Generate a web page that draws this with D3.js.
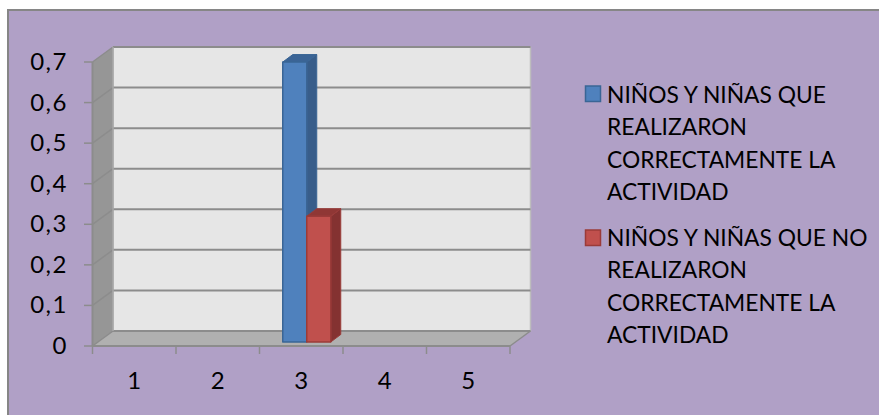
<!DOCTYPE html>
<html><head><meta charset="utf-8">
<script src="https://cdn.jsdelivr.net/npm/d3@7"></script>
<style>html,body{margin:0;padding:0;background:#fff}svg{display:block}text{font-family:Lato,"Open Sans",sans-serif;fill:#000}</style>
</head><body><svg id="c" width="879" height="415"></svg>
<script>
const categories = ["1","2","3","4","5"];
const seriesNames = ["NIÑOS Y NIÑAS QUE REALIZARON CORRECTAMENTE LA ACTIVIDAD","NIÑOS Y NIÑAS QUE NO REALIZARON CORRECTAMENTE LA ACTIVIDAD"];
const blueValues = [null,null,0.69,null,null];
const redValues = [null,null,0.31,null,null];
const yTicks = [0,0.1,0.2,0.3,0.4,0.5,0.6,0.7];
const legendLines = [["NIÑOS Y NIÑAS QUE","REALIZARON","CORRECTAMENTE LA","ACTIVIDAD"],["NIÑOS Y NIÑAS QUE NO","REALIZARON","CORRECTAMENTE LA","ACTIVIDAD"]];
const colors = [{front:"#4F81BD",edge:"#3A6595",side:"#385D8A",top:"#3B6496"},{front:"#C0504D",edge:"#9A3B39",side:"#843231",top:"#8F3735"}];

const svg = d3.select("#c");
const W=879,H=415;
svg.append("rect").attr("x",8).attr("y",10).attr("width",W).attr("height",H).attr("fill","#B0A0C6").attr("stroke","#868686").attr("stroke-width",2);

const x = d3.scaleBand().domain(categories).range([92.5,510]);
const y = d3.scaleLinear().domain([0,0.7]).range([346,62]);
const depth = {dx:20.5,dy:-15};
const grid="#8C8C8C";
const g = svg.append("g");
const poly=(pts,fill,stroke,sw)=>g.append("polygon").attr("points",pts.map(p=>p.join(",")).join(" ")).attr("fill",fill).attr("stroke",stroke||"none").attr("stroke-width",sw||0).attr("stroke-linejoin","round");
const x0=x.range()[0],x1=x.range()[1],yb=y(0),yt=y(0.7);
poly([[x0+depth.dx,yt+depth.dy],[x1+depth.dx,yt+depth.dy],[x1+depth.dx,yb+depth.dy],[x0+depth.dx,yb+depth.dy]],"#E6E6E6","#BDBDBD",1.5);
poly([[x0,yb],[x0+depth.dx,yb+depth.dy],[x1+depth.dx,yb+depth.dy],[x1,yb]],"#B0B0B0");
poly([[x0,yt],[x0+depth.dx,yt+depth.dy],[x0+depth.dx,yb+depth.dy],[x0,yb]],"#969696");
yTicks.forEach(t=>{
  const yy=y(t);
  g.append("line").attr("x1",x0).attr("y1",yy).attr("x2",x0+depth.dx).attr("y2",yy+depth.dy).attr("stroke",grid).attr("stroke-width",1.5);
  g.append("line").attr("x1",x0+depth.dx).attr("y1",yy+depth.dy).attr("x2",x1+depth.dx).attr("y2",yy+depth.dy).attr("stroke",grid).attr("stroke-width",2);
  g.append("line").attr("x1",x0-8.5).attr("y1",yy).attr("x2",x0).attr("y2",yy).attr("stroke",grid).attr("stroke-width",1.5);
  g.append("text").attr("x",68).attr("y",yy+8).attr("text-anchor","end").attr("font-size",24).attr("letter-spacing",1.5).text(String(t).replace(".",","));
});
g.append("line").attr("x1",x0+depth.dx).attr("y1",yt+depth.dy).attr("x2",x0+depth.dx).attr("y2",yb+depth.dy).attr("stroke","#A8A8A8").attr("stroke-width",1.5);
g.append("line").attr("x1",x0).attr("y1",yt).attr("x2",x0).attr("y2",yb).attr("stroke",grid).attr("stroke-width",2);
g.append("line").attr("x1",x0).attr("y1",yb).attr("x2",x1).attr("y2",yb).attr("stroke",grid).attr("stroke-width",2);
g.append("line").attr("x1",x1).attr("y1",yb).attr("x2",x1+depth.dx).attr("y2",yb+depth.dy).attr("stroke",grid).attr("stroke-width",1.5);
const tickPos=categories.map(c=>x(c)).concat([x1]);
tickPos.forEach(p=>g.append("line").attr("x1",p).attr("y1",yb).attr("x2",p).attr("y2",yb+8).attr("stroke",grid).attr("stroke-width",1.5));
categories.forEach(c=>g.append("text").attr("x",x(c)+x.bandwidth()/2).attr("y",389).attr("text-anchor","middle").attr("font-size",24).text(c));

const barW=24, off={dx:5.5,dy:-4}, bd={dx:10,dy:-7.5};
[blueValues,redValues].forEach((vals,si)=>{
  vals.forEach((v,i)=>{
    if(v==null)return;
    const L=x(categories[i])+x.bandwidth()/2+off.dx+(si-1)*barW;
    const R=L+barW;
    const b=yb+off.dy;
    const h=y(0)-y(v);
    const t=b-h;
    const c=colors[si];
    poly([[R,b],[R+bd.dx,b+bd.dy],[R+bd.dx,t+bd.dy],[R,t]],c.side,c.edge,1);
    poly([[L,t],[L+bd.dx,t+bd.dy],[R+bd.dx,t+bd.dy],[R,t]],c.top,c.edge,1);
    poly([[L,t],[R,t],[R,b],[L,b]],c.front,c.edge,1.5);
  });
});
const swatchY=[86,230], lineH=32.5, first=[102.5,245.5];
legendLines.forEach((lines,si)=>{
  g.append("rect").attr("x",585.5).attr("y",swatchY[si]).attr("width",15).attr("height",15.5).attr("fill",colors[si].front).attr("stroke",colors[si].edge).attr("stroke-width",1.5);
  lines.forEach((l,k)=>g.append("text").attr("x",607).attr("y",first[si]+k*lineH).attr("font-size",22.8).text(l));
});
</script></body></html>
